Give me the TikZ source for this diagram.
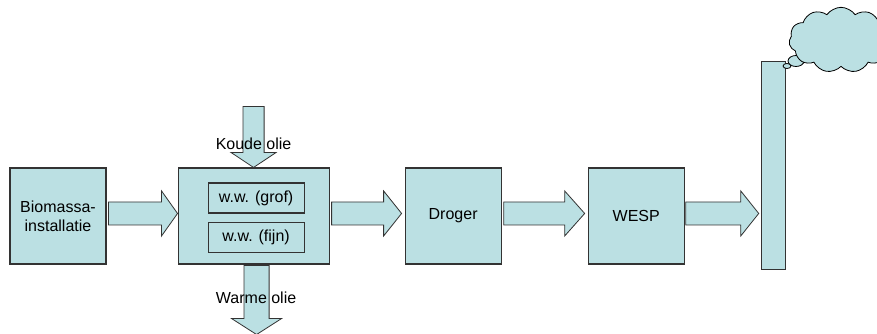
\documentclass[tikz,border=0pt]{standalone}
\usepackage{fontspec}
\setmainfont{Liberation Sans}
\usetikzlibrary{positioning,calc,shapes.geometric,shapes.symbols}
\definecolor{procblue}{HTML}{BBE0E3}

% dikke blokpijl: van, naar, halve schachtbreedte, halve kopbreedte, koplengte
\newcommand{\blokpijl}[5]{%
	\coordinate (bp-kop) at ($(#2)!#5!(#1)$);
	\draw [fatarrow] ($(#1)!#3!90:(#2)$) -- ($(bp-kop)!#3!-90:(#1)$) -- ($(bp-kop)!#4!-90:(#1)$) -- (#2)
		-- ($(bp-kop)!#4!90:(#1)$) -- ($(bp-kop)!#3!90:(#1)$) -- ($(#1)!#3!-90:(#2)$) -- cycle;}

\begin{document}
\begin{tikzpicture}[x=0.75pt,y=-0.75pt,font=\fontsize{12}{14}\selectfont]
	% stijlen voor de installatie
	\tikzstyle{unit} = [rectangle, fill=procblue, draw=black!80, line width=0.8pt, minimum width=72pt, minimum height=72pt, inner sep=0pt, align=center]	% hoofdblok
	\tikzstyle{smallunit} = [rectangle, fill=procblue, draw=black!80, line width=0.8pt, minimum width=72pt, minimum height=22.5pt, inner sep=0pt]	% wasser
	\tikzstyle{chimney} = [rectangle, fill=procblue, draw=black!80, line width=0.8pt, minimum width=18pt, minimum height=156pt, inner sep=0pt]	% schoorsteen
	\tikzstyle{fatarrow} = [fill=procblue, draw=black!80, line width=0.6pt, line join=miter]	% blokpijl
	\tikzstyle{smoke} = [cloud, cloud puffs=11, cloud puff arc=110, aspect=1.6, fill=procblue, draw=black, line width=0.6pt, minimum width=78pt, minimum height=49pt, inner sep=0pt]	% rookwolk
	\tikzstyle{puff} = [ellipse, fill=procblue, draw=black, line width=0.6pt, inner sep=0pt]	% rookbelletje
	\tikzstyle{olietext} = [inner sep=0pt]	% tekst bij de olie
	\useasboundingbox (0,0) rectangle (877,334);

	\node (bio) [unit] at (58,216) {Biomassa-\\installatie};
	\node (ww) [unit, minimum width=113.25pt, right=53.25pt of bio] {};
	\node (grof) [smallunit, below=11.25pt of ww.north, xshift=1.9pt] {w.w. (grof)};
	\node (fijn) [smallunit, below=6pt of grof] {w.w. (fijn)};
	\node (droger) [unit, right=56.25pt of ww] {Droger};
	\node (wesp) [unit, right=64.5pt of droger] {WESP};
	\node (stack) [chimney, right=57pt of wesp, yshift=37.9pt] {};
	\node (puff1) [puff, minimum width=6pt, minimum height=3.75pt] at (787,66) {};
	\node (puff2) [puff, minimum width=12pt, minimum height=8.25pt] at (796,61) {};
	\node (smoke) [smoke] at (841,40) {};

	% pijlen tussen de blokken
	\coordinate (a1s) at ([xshift=1.5pt,yshift=1.9pt]bio.east);
	\coordinate (a1e) at ([yshift=1.9pt]ww.west);
	\coordinate (a2s) at ([xshift=1.5pt,yshift=1.9pt]ww.east);
	\coordinate (a2e) at ([xshift=-2.25pt,yshift=1.9pt]droger.west);
	\coordinate (a3s) at ([xshift=1.5pt,yshift=1.9pt]droger.east);
	\coordinate (a3e) at ([xshift=-2.25pt,yshift=1.9pt]wesp.west);
	\coordinate (a4s) at ([xshift=0.75pt,yshift=1.9pt]wesp.east);
	\coordinate (a4e) at ($(stack.west |- a4s)+(-1.5pt,0)$);
	\blokpijl{a1s}{a1e}{8.6pt}{16.9pt}{12pt}
	\blokpijl{a2s}{a2e}{8.6pt}{16.9pt}{13.5pt}
	\blokpijl{a3s}{a3e}{8.6pt}{16.9pt}{15pt}
	\blokpijl{a4s}{a4e}{8.6pt}{16.9pt}{13.5pt}

	% koude olie in, warme olie uit
	\coordinate (kin) at ([yshift=45.75pt]ww.north);
	\coordinate (wuit) at ([xshift=2.25pt,yshift=-0.75pt]ww.south);
	\coordinate (weind) at ([xshift=2.25pt,yshift=-52.5pt]ww.south);
	\blokpijl{kin}{ww.north}{7.9pt}{16.9pt}{11.25pt}
	\blokpijl{wuit}{weind}{9.4pt}{18.75pt}{12pt}
	\node (koude) [olietext] at ([yshift=18pt]ww.north) {Koude olie};
	\node (warme) [olietext] at ([xshift=1.9pt,yshift=-24.75pt]ww.south) {Warme olie};
\end{tikzpicture}
\end{document}
